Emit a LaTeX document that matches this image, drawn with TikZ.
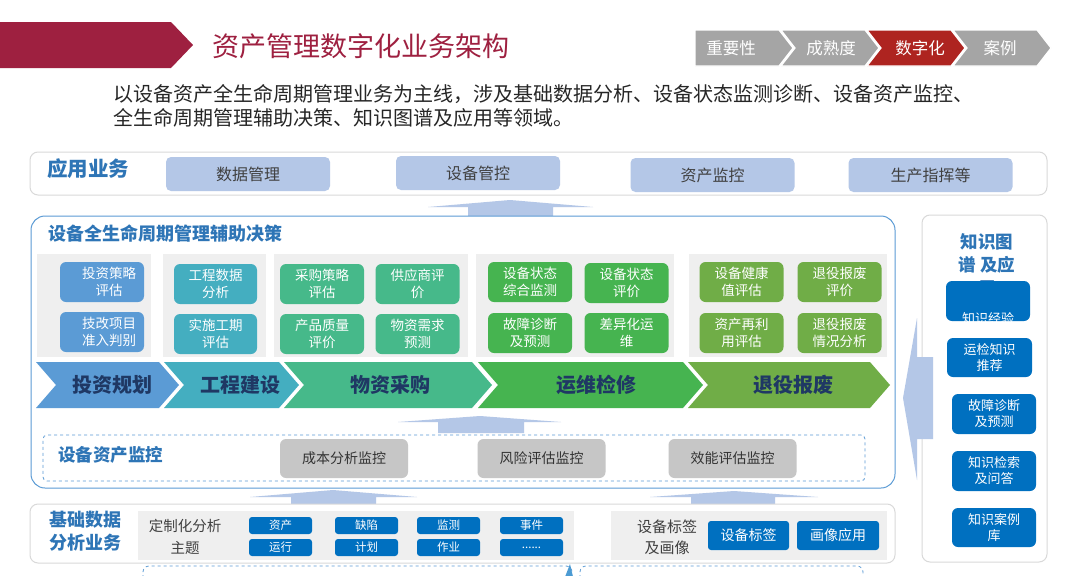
\documentclass[tikz,border=0pt]{standalone}
\usepackage{fontspec}
\setmainfont{Noto Sans CJK SC}
\definecolor{crimson}{HTML}{9E2040}
\definecolor{tabgray}{HTML}{A5A5A5}
\definecolor{tabred}{HTML}{AE2420}
\definecolor{headblue}{HTML}{2E75B6}
\definecolor{pillblue}{HTML}{B4C7E7}
\definecolor{panelgray}{HTML}{EFEFEF}
\definecolor{framegray}{HTML}{D9D9D9}
\definecolor{darktxt}{HTML}{404040}
\definecolor{cInvest}{HTML}{5B9BD5}
\definecolor{cBuild}{HTML}{44AEC0}
\definecolor{cBuy}{HTML}{46B98A}
\definecolor{cOps}{HTML}{46B450}
\definecolor{cRetire}{HTML}{70AD47}
\definecolor{stagetxt}{HTML}{1F3864}
\definecolor{monigray}{HTML}{C6C6C6}
\definecolor{deepblue}{HTML}{0070C0}
\newcommand\moretags{......}
\begin{document}
\begin{tikzpicture}[
  x=1pt,y=-1pt,
  every node/.style={inner sep=0pt,align=center},
  frame/.style={draw=framegray,line width=1pt,fill=white,rounded corners=8pt},
  heading/.style={text=headblue,font=\fontsize{#1}{23}\selectfont\bfseries},
  pill/.style={fill=pillblue,rounded corners=5pt,minimum width=164pt,minimum height=34pt,text=darktxt,font=\fontsize{16}{18}\selectfont},
  panel/.style={fill=panelgray,minimum height=103pt},
  card/.style={fill=#1,rounded corners=6pt,minimum width=84pt,minimum height=40pt,text=white,font=\fontsize{13.5}{16.5}\selectfont},
  stagetext/.style={text=stagetxt,font=\fontsize{20}{22}\selectfont\bfseries},
  monibox/.style={fill=monigray,rounded corners=6pt,minimum width=128pt,minimum height=39pt,text=black!80,font=\fontsize{14}{16}\selectfont},
  tag/.style={fill=deepblue,rounded corners=3pt,minimum width=63pt,minimum height=17pt,text=white,font=\fontsize{11.5}{12}\selectfont},
  kbox/.style={fill=deepblue,rounded corners=6pt,minimum width=84pt,minimum height=40pt,text=white,font=\fontsize{13}{16}\selectfont},
  flatarrow/.style={fill=pillblue}
]
\useasboundingbox[fill=white] (0,0) rectangle (1080,576);

% header
\fill[crimson] (0,22) -- (171,22) -- (193,45) -- (171,68) -- (0,68) -- cycle;
\node[anchor=west,text=crimson,font=\fontsize{27}{30}\selectfont] (title) at (212,46) {资产管理数字化业务架构};
\foreach \a/\n/\tx/\t/\c [count=\i] in {695/0/731/重要性/tabgray,781/14/831/成熟度/tabgray,867/14/920/数字化/tabred,953/14/1000/案例/tabgray} {
  \filldraw[fill=\c,draw=white,line width=1.2pt] (\a,30) -- (\a+84,30) -- (\a+98,48) -- (\a+84,66) -- (\a,66) -- (\a+\n,48) -- cycle;
  \node[text=white,font=\fontsize{16.5}{18}\selectfont] (tab\i) at (\tx,48) {\t};
}
\node[anchor=west,text=black!85,font=\fontsize{20}{22}\selectfont] (sub1) at (113,94) {以设备资产全生命周期管理业务为主线，涉及基础数据分析、设备状态监测诊断、设备资产监控、};
\node[anchor=west,text=black!85,font=\fontsize{20}{22}\selectfont] (sub2) at (113,118) {全生命周期管理辅助决策、知识图谱及应用等领域。};

% application layer
\node[frame,minimum width=1017pt,minimum height=43pt] (app) at (538.5,173.5) {};
\node[heading=20.5,anchor=west] (appT) at (47,169) {应用业务};
\node[pill] (p1) at (248,174) {数据管理};
\node[pill] (p2) at (478,173) {设备管控};
\node[pill] (p3) at (712.5,175) {资产监控};
\node[pill] (p4) at (930.5,175) {生产指挥等};
\fill[flatarrow] (468,216) -- (468,207) -- (428,207) -- (510,200) -- (593,207) -- (553,207) -- (553,216) -- cycle;

% lifecycle decisions
\node[draw=cInvest,line width=1pt,fill=white,rounded corners=14pt,minimum width=864pt,minimum height=272pt] (dec) at (463,352) {};
\node[heading=18,anchor=west] (decT) at (48,234) {设备全生命周期管理辅助决策};
\node[panel,minimum width=114pt] (g1) at (94,305.5) {};
\node[panel,minimum width=103pt] (g2) at (214.5,305.5) {};
\node[panel,minimum width=194pt] (g3) at (371,305.5) {};
\node[panel,minimum width=198pt] (g4) at (575,305.5) {};
\node[panel,minimum width=198pt] (g5) at (788,305.5) {};

\node[card=cInvest] (c11) at (102,282) {\hspace*{14pt}投资策略\\\hspace*{14pt}评估};
\node[card=cInvest] (c12) at (102,332) {\hspace*{14pt}技改项目\\\hspace*{14pt}准入判别};
\node[card=cBuild,minimum width=83pt] (c21) at (215.5,284) {工程数据\\分析};
\node[card=cBuild,minimum width=83pt] (c22) at (215.5,334) {实施工期\\评估};
\node[card=cBuy] (c31) at (322,284) {采购策略\\评估};
\node[card=cBuy] (c32) at (417.5,284) {供应商评\\价};
\node[card=cBuy] (c33) at (322,334) {产品质量\\评价};
\node[card=cBuy] (c34) at (417.5,334) {物资需求\\预测};
\node[card=cOps] (c41) at (530,282) {设备状态\\综合监测};
\node[card=cOps] (c42) at (626.5,283) {设备状态\\评价};
\node[card=cOps] (c43) at (530,333) {故障诊断\\及预测};
\node[card=cOps] (c44) at (626.5,333) {差异化运\\维};
\node[card=cRetire] (c51) at (741.5,282) {设备健康\\值评估};
\node[card=cRetire] (c52) at (839.5,282) {退役报废\\评价};
\node[card=cRetire] (c53) at (741.5,333) {资产再利\\用评估};
\node[card=cRetire] (c54) at (839.5,333) {退役报废\\情况分析};

% stages
\foreach \l/\r/\tx/\t/\c [count=\i] in {36/159/112/投资规划/cInvest,164/279/240/工程建设/cBuild,284/472/390/物资采购/cBuy,478/683/596/运维检修/cOps,688/870/793/退役报废/cRetire} {
  \fill[\c] (\l,362) -- (\r,362) -- (\r+20,385) -- (\r,408) -- (\l,408) -- (\l+20,385) -- cycle;
  \node[stagetext] (stage\i) at (\tx,385) {\t};
}
\fill[flatarrow] (438,433) -- (438,422) -- (398,422) -- (480,416) -- (561,422) -- (524,422) -- (524,433) -- cycle;

% asset monitoring
\node[draw=cInvest,dashed,line width=0.8pt,rounded corners=4pt,minimum width=822pt,minimum height=46pt] (moni) at (454,458) {};
\node[heading=17.5,anchor=west] (moniT) at (58,455) {设备资产监控};
\node[monibox] (m1) at (344,458.5) {成本分析监控};
\node[monibox] (m2) at (541.5,458.5) {风险评估监控};
\node[monibox] (m3) at (732.5,458.5) {效能评估监控};

% basic data analysis
\fill[flatarrow] (291,504) -- (291,497) -- (250,497) -- (333,490) -- (417,497) -- (376,497) -- (376,504) -- cycle;
\fill[flatarrow] (691,504) -- (691,497) -- (650,497) -- (734,491) -- (818,497) -- (775,497) -- (775,504) -- cycle;
\node[frame,minimum width=865pt,minimum height=59pt] (base) at (462.5,533.5) {};
\node[heading=18] (baseT) at (85,531) {基础数据\\分析业务};
\node[fill=panelgray,minimum width=436pt,minimum height=49pt] (ga) at (356,535.5) {};
\node[text=darktxt,font=\fontsize{14.5}{22}\selectfont] (gaT) at (185,537) {定制化分析\\主题};
\foreach \x/\u/\v [count=\i] in {280.5/资产/运行,366.5/缺陷/计划,448.5/监测/作业,531.5/事件/\moretags} {
  \node[tag] (ta\i) at (\x,525.5) {\u};
  \node[tag] (tb\i) at (\x,547.5) {\v};
}
\node[fill=panelgray,minimum width=276pt,minimum height=49pt] (gb) at (749,535.5) {};
\node[text=darktxt,font=\fontsize{15}{21}\selectfont] (gbT) at (667,537) {设备标签\\及画像};
\node[tag,minimum width=81pt,minimum height=29pt,font=\fontsize{14}{16}\selectfont] (lab) at (748.5,535.5) {设备标签};
\node[tag,minimum width=82pt,minimum height=29pt,font=\fontsize{14}{16}\selectfont] (img) at (838,535.5) {画像应用};
\draw[cInvest,dashed,line width=0.8pt,rounded corners=6pt] (143,620) -- (143,566) -- (572,566) -- (572,620);
\draw[cInvest,dashed,line width=0.8pt,rounded corners=6pt] (580,620) -- (580,566) -- (863,566) -- (863,620);
\fill[deepblue!70] (565,577) -- (570,564) -- (573,577) -- cycle;

% knowledge graph
\node[frame,minimum width=125pt,minimum height=347pt] (kg) at (984.5,388.5) {};
\fill[flatarrow] (933,439) -- (917,439) -- (917,480) -- (903,398) -- (917,318) -- (917,357) -- (933,357) -- cycle;
\node[heading=17.5] (kgT) at (987,265) {知识图\\谱 及应\\用};
\node[kbox] (k1) at (988,301) {};
\node[text=white,font=\fontsize{13}{18}\selectfont] (k1T) at (988,328) {知识经验\\入库};
\node[kbox,minimum width=85pt,minimum height=39pt] (k2) at (989.5,357.5) {运检知识\\推荐};
\node[kbox] (k3) at (994,414) {故障诊断\\及预测};
\node[kbox] (k4) at (994,471) {知识检索\\及问答};
\node[kbox,minimum height=39pt] (k5) at (994,527.5) {知识案例\\库};
\end{tikzpicture}
\end{document}
